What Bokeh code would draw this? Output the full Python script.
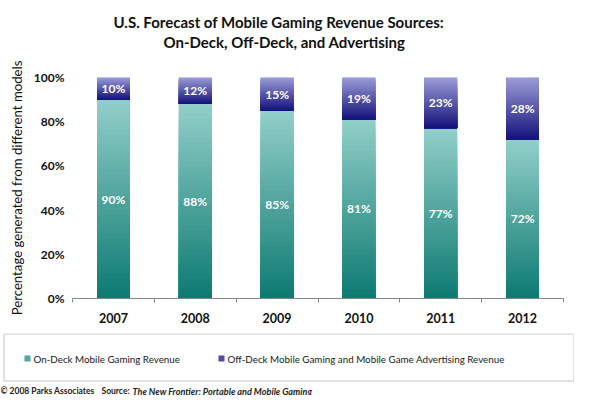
from bokeh.plotting import figure
from bokeh.models import (Range1d, FixedTicker, PrintfTickFormatter, ColumnDataSource)
from bokeh.layouts import column
from bokeh.embed import file_html
from bokeh.resources import INLINE
from bokeh.core.properties import value

# ---------------- data ----------------
years = ["2007", "2008", "2009", "2010", "2011", "2012"]
on_deck = [90, 88, 85, 81, 77, 72]
off_deck = [10, 12, 15, 19, 23, 28]
y_ticks = [0, 20, 40, 60, 80, 100]
series_names = ["On-Deck Mobile Gaming Revenue",
                "Off-Deck Mobile Gaming and Mobile Game Advertising Revenue"]
title_lines = ["U.S. Forecast of Mobile Gaming Revenue Sources:",
               "On-Deck, Off-Deck, and Advertising"]
y_label = "Percentage generated from different models"
footer_parts = ["\u00a9 2008 Parks Associates", "Source:",
                "The New Frontier: Portable and Mobile Gaming"]

# ---------------- styles ----------------
FONT = "Lato"
TEAL_BOTTOM, TEAL_TOP = (12, 122, 113), (146, 207, 201)
NAVY_BOTTOM, NAVY_TOP = (20, 18, 122), (156, 156, 216)
TEAL_MID, NAVY_MID = "#4fa8a2", "#4d4da3"
TXT = "#111111"
W = 574
HDR_H, MAIN_H, LEG_H = 56, 277, 62


def mix(c0, c1, t):
    r, g, b = (int(round(a + (bb - a) * t)) for a, bb in zip(c0, c1))
    return "#%02x%02x%02x" % (r, g, b)


def blank(fig):
    fig.xaxis.visible = False
    fig.yaxis.visible = False
    fig.xgrid.visible = False
    fig.ygrid.visible = False
    fig.outline_line_color = None


# ---------------- header (title) ----------------
hdr = figure(width=W, height=HDR_H, output_backend="svg", toolbar_location=None,
             x_range=Range1d(0, W), y_range=Range1d(HDR_H, 0), min_border=0,
             frame_align=False)
blank(hdr)
hdr.text(x=[113, 163], y=[21, 41], text=title_lines, text_align="left",
         text_baseline="middle", text_font=value(FONT), text_font_style="bold",
         text_font_size="15px", text_color=TXT)

# ---------------- main chart ----------------
idx = list(range(len(years)))
p = figure(width=W, height=MAIN_H, output_backend="svg", toolbar_location=None,
           x_range=Range1d(-0.5, len(years) - 0.5), y_range=Range1d(0, 100),
           min_border_left=72, min_border_right=11, min_border_top=21, min_border_bottom=35,
           frame_align=False)
p.xgrid.visible = False
p.ygrid.visible = False
p.outline_line_color = None

# stacked bars (data-linked)
src = ColumnDataSource(dict(x=idx, on=on_deck, off=off_deck))
bars = p.vbar_stack(["on", "off"], x="x", width=0.4, source=src,
                    fill_color=[TEAL_MID, NAVY_MID], line_color=None)

# gradient shading over each segment
N = 40
gx, gb, gt, gc = [], [], [], []
for i in idx:
    segs = [(0, on_deck[i], TEAL_BOTTOM, TEAL_TOP),
            (on_deck[i], on_deck[i] + off_deck[i], NAVY_BOTTOM, NAVY_TOP)]
    for b, t, c0, c1 in segs:
        for k in range(N - 1, -1, -1):
            gx.append(i)
            gb.append(b)
            gt.append(b + (t - b) * (k + 1) / N)
            gc.append(mix(c0, c1, (k + 0.5) / N))
p.vbar(x=gx, bottom=gb, top=gt, width=0.4, fill_color=gc, line_color=None)

# value labels
lab_x = idx + idx
lab_y = [v / 2 for v in on_deck] + [o + v / 2 for o, v in zip(on_deck, off_deck)]
lab_t = ["%d%%" % v for v in on_deck] + ["%d%%" % v for v in off_deck]
p.text(x=lab_x, y=lab_y, text=lab_t, text_align="center", text_baseline="middle",
       text_font=value(FONT), text_font_style="bold", text_font_size="12px",
       text_color="white")

# x axis
p.xaxis.ticker = FixedTicker(ticks=idx, minor_ticks=[i - 0.5 for i in range(len(years) + 1)])
p.xaxis.major_label_overrides = {i: y for i, y in zip(idx, years)}
p.xaxis.major_tick_line_color = None
p.xaxis.major_tick_out = 0
p.xaxis.major_tick_in = 0
p.xaxis.minor_tick_line_color = "#868686"
p.xaxis.minor_tick_in = 0
p.xaxis.minor_tick_out = 4
p.xaxis.axis_line_color = "#868686"
p.xaxis.major_label_standoff = 10
p.xaxis.major_label_text_font = FONT
p.xaxis.major_label_text_font_style = "bold"
p.xaxis.major_label_text_font_size = "12.5px"
p.xaxis.major_label_text_color = TXT

# y axis
p.yaxis.ticker = FixedTicker(ticks=y_ticks)
p.yaxis.formatter = PrintfTickFormatter(format="%d%%")
p.yaxis.axis_line_color = None
p.yaxis.major_tick_line_color = None
p.yaxis.minor_tick_line_color = None
p.yaxis.major_tick_out = 0
p.yaxis.major_label_standoff = 8
p.yaxis.major_label_text_font = FONT
p.yaxis.major_label_text_font_style = "bold"
p.yaxis.major_label_text_font_size = "12px"
p.yaxis.major_label_text_color = TXT
p.yaxis.axis_label = y_label
p.yaxis.axis_label_standoff = 6
p.yaxis.axis_label_text_font = FONT
p.yaxis.axis_label_text_font_style = "normal"
p.yaxis.axis_label_text_font_size = "13.2px"
p.yaxis.axis_label_text_color = TXT

# ---------------- legend + footer ----------------
leg = figure(width=W, height=LEG_H, output_backend="svg", toolbar_location=None,
             x_range=Range1d(0, W), y_range=Range1d(LEG_H, 0), min_border=0,
             frame_align=False)
blank(leg)
leg.quad(left=[3.5], right=[573.5], top=[0.5], bottom=[47.5], fill_color=None,
         line_color="#c4c4c4", line_width=1)
leg.rect(x=[27, 221], y=[25, 25], width=6, height=6,
         fill_color=[TEAL_MID, NAVY_MID], line_color=None)
leg.text(x=[33, 227], y=[25, 25], text=series_names, text_align="left",
         text_baseline="middle", text_font=value(FONT), text_font_size="9.8px",
         text_color="#1a1a1a")
leg.text(x=[0, 101], y=[57.5, 57.5], text=footer_parts[:2], text_align="left",
         text_baseline="middle", text_font=value(FONT), text_font_style="bold",
         text_font_size="8.5px", text_color="#222222")
leg.text(x=[132], y=[57.5], text=footer_parts[2:], text_align="left",
         text_baseline="middle", text_font=value(FONT), text_font_style="bold italic",
         text_font_size="9.1px", text_color="#222222")

layout = column(hdr, p, leg, spacing=0)
open("out.html", "w").write(file_html(layout, INLINE))
